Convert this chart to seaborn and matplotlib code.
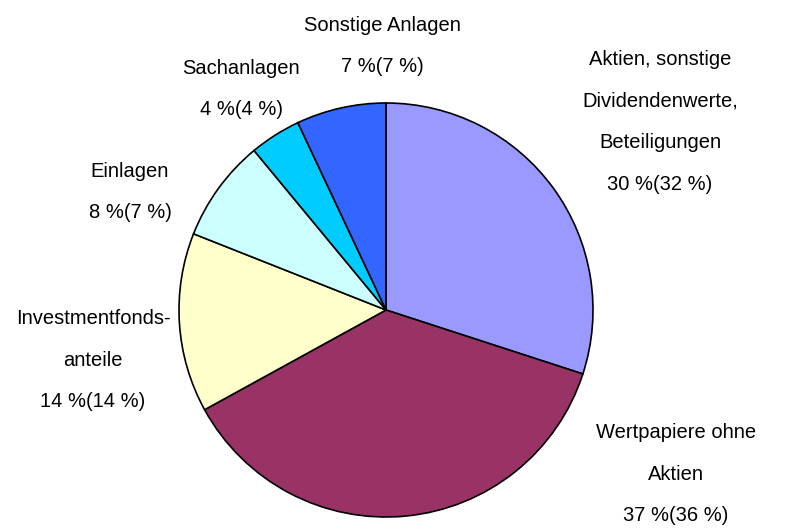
import matplotlib
matplotlib.use("Agg")
import matplotlib.pyplot as plt
import seaborn as sns

# data (clockwise from 12 o'clock)
categories = ["Aktien, sonstige\nDividendenwerte,\nBeteiligungen",
              "Wertpapiere ohne\nAktien",
              "Investmentfonds-\nanteile",
              "Einlagen",
              "Sachanlagen",
              "Sonstige Anlagen"]
shares = [30, 37, 14, 8, 4, 7]
shares_prev = [32, 36, 14, 7, 4, 7]
colors = ["#9999FF", "#993366", "#FFFFCC", "#CCFFFF", "#00CCFF", "#3366FF"]

sns.set_theme(style="white")
plt.rcParams['font.family'] = ['Liberation Sans', 'DejaVu Sans']

fig = plt.figure(figsize=(7.9, 5.3), dpi=100)
ax = fig.add_axes([0, 0, 1, 1])

ax.pie(shares, colors=colors, startangle=90, counterclock=False,
       center=(386, 220), radius=207,
       wedgeprops=dict(edgecolor="black", linewidth=1.2))
ax.set_xlim(0, 790)
ax.set_ylim(0, 530)
ax.set_aspect("equal")
ax.axis("off")

# label anchors (center of text block)
label_pos = [(660, 408), (676, 56), (93, 170), (130, 338),
             (241, 441), (382, 484)]
for name, s, p, (x, y) in zip(categories, shares, shares_prev, label_pos):
    txt = f"{name}\n{s} %({p} %)"
    ax.text(x, y, txt, ha="center", va="center", fontsize=14.5,
            linespacing=2.5, color="black")

fig.savefig("out.png", dpi=100)
